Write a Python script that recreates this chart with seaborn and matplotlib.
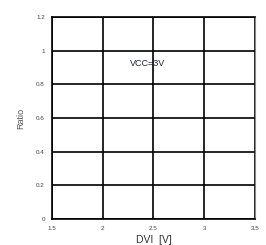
import matplotlib
matplotlib.use("Agg")
import matplotlib.pyplot as plt
import seaborn as sns
import numpy as np

x_ticks = [1.5, 2, 2.5, 3, 3.5]
x_tick_labels = ["1.5", "2", "2.5", "3", "3.5"]
y_ticks = [0, 0.2, 0.4, 0.6, 0.8, 1.0, 1.2]
y_tick_labels = ["0", "0.2", "0.4", "0.6", "0.8", "1", "1.2"]
annotation_text = "VCC=3V"
annotation_x = 2.44
annotation_y = 0.925

sns.set_style("white")
plt.rcParams['font.family'] = ['Liberation Sans', 'DejaVu Sans']

fig = plt.figure(figsize=(2.66, 2.45), dpi=100)
ax = fig.add_axes([0.195, 0.106, 0.764, 0.825])

ax.set_xlim(1.5, 3.5)
ax.set_ylim(0, 1.2)
ax.set_xticks(x_ticks)
ax.set_xticklabels(x_tick_labels, fontsize=4.5, color="#444444")
ax.set_yticks(y_ticks)
ax.set_yticklabels(y_tick_labels, fontsize=4.5, color="#444444")
ax.tick_params(length=0, pad=5)
ax.grid(True, color="black", linewidth=1.2)
for side in ["left", "bottom", "top"]:
    ax.spines[side].set_color("black")
    ax.spines[side].set_linewidth(1.2)
ax.spines["right"].set_color("#888888")
ax.spines["right"].set_linewidth(0.8)

ax.text(annotation_x, annotation_y, annotation_text, fontsize=6.5, ha="center", va="center", color="#222244")
ax.set_xlabel("DVI  [V]", fontsize=7.5, color="#333333", labelpad=3)
ax.set_ylabel("Ratio", fontsize=6.5, color="#555555", labelpad=8)

fig.savefig("out.png", dpi=100)
